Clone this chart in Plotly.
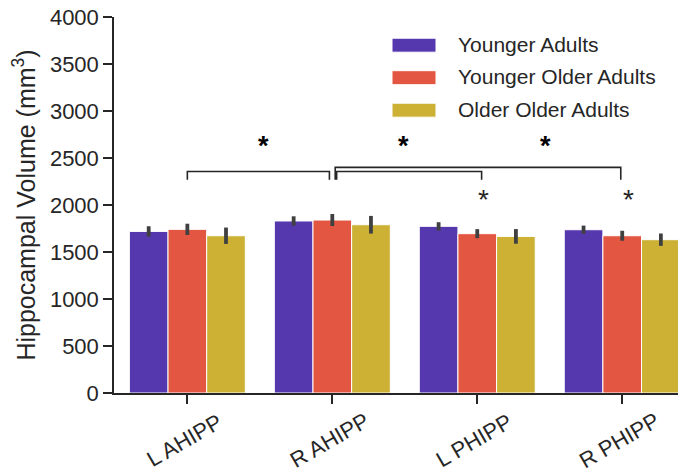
import plotly.graph_objects as go

# ---------------- data ----------------
categories = ["L AHIPP", "R AHIPP", "L PHIPP", "R PHIPP"]
series_names = ["Younger Adults", "Younger Older Adults", "Older Older Adults"]
young_vals = [1719, 1830, 1773, 1737]
young_err = [55, 50, 44, 44]
yold_vals = [1741, 1840, 1695, 1673]
yold_err = [60, 64, 48, 53]
oold_vals = [1673, 1790, 1666, 1631]
oold_err = [87, 94, 78, 66]
colors = ["#5638AE", "#E35641", "#CCB134"]

# significance brackets: (x_start, x_end, y_top, y_leg) in data units
brackets = [(0.0, 0.98, 2357, 2269), (1.03, 2.03, 2357, 2269), (1.02, 2.99, 2400, 2269)]
big_star_x = [0.524, 1.494, 2.47]
big_star_y = 2660
small_star_x = [2.04, 3.04]
small_star_y = 2115

y_ticks = [0, 500, 1000, 1500, 2000, 2500, 3000, 3500, 4000]

FONT = "Liberation Sans, Arial, Helvetica, sans-serif"
TXT = "#262626"

# page offset of the figure (default body margin)
OFF = 8
W, H = 686 - OFF, 471 - OFF

fig = go.Figure()
vals = [young_vals, yold_vals, oold_vals]
errs = [young_err, yold_err, oold_err]
for i in range(3):
    fig.add_trace(go.Bar(
        x=list(range(len(categories))), y=vals[i], name=series_names[i],
        marker=dict(color=colors[i], line=dict(color="white", width=1)),
        error_y=dict(type="data", array=errs[i], visible=True, color="#404040",
                     thickness=3.8, width=0),
        showlegend=False,
    ))

shapes = []
for (x0, x1, yt, yl) in brackets:
    shapes.append(dict(type="path", xref="x", yref="y",
                       path=f"M {x0},{yl} L {x0},{yt} L {x1},{yt} L {x1},{yl}",
                       line=dict(color="#262626", width=1.6)))

annotations = []
for xs in big_star_x:
    annotations.append(dict(x=xs, y=big_star_y, xref="x", yref="y", text="<b>*</b>",
                            showarrow=False, font=dict(size=27, color="black", family=FONT),
                            yshift=-3))
for xs in small_star_x:
    annotations.append(dict(x=xs, y=small_star_y, xref="x", yref="y", text="*",
                            showarrow=False, font=dict(size=28, color=TXT, family=FONT),
                            yshift=-5))

# x category labels, rotated and centred on the ticks
for i, c in enumerate(categories):
    annotations.append(dict(x=i, y=0, xref="x", yref="paper", text=c, textangle=-30,
                            showarrow=False, xanchor="center", yanchor="middle",
                            xshift=-3, yshift=-47,
                            font=dict(size=22, color=TXT, family=FONT)))

# custom legend (page pixel coords converted to paper)
plot_l, plot_r, plot_t, plot_b = 114, 686, 17.3, 393.3
def px_to_paper_x(px):
    return (px - plot_l) / (plot_r - plot_l)
def px_to_paper_y(py):
    return (plot_b - py) / (plot_b - plot_t)

legend_rows = [45.5, 78, 110.5]
for i in range(3):
    cy = legend_rows[i]
    shapes.append(dict(type="rect", xref="paper", yref="paper",
                       x0=px_to_paper_x(392), x1=px_to_paper_x(436),
                       y0=px_to_paper_y(cy + 7), y1=px_to_paper_y(cy - 7),
                       fillcolor=colors[i], line=dict(color="white", width=1)))
    annotations.append(dict(x=px_to_paper_x(456), y=px_to_paper_y(cy), xref="paper", yref="paper",
                            text=series_names[i], showarrow=False, xanchor="left", yanchor="middle",
                            yshift=1, font=dict(size=21, color=TXT, family=FONT)))

fig.update_layout(
    width=W, height=H,
    margin=dict(l=plot_l - OFF, r=0, t=plot_t - OFF, b=H - (plot_b - OFF)),
    paper_bgcolor="white", plot_bgcolor="white",
    barmode="group", bargap=0.2, bargroupgap=0,
    shapes=shapes, annotations=annotations,
    font=dict(family=FONT, color=TXT),
    showlegend=False,
)
fig.update_xaxes(range=[-0.506, 3.44], tickvals=list(range(len(categories))),
                 showticklabels=False, ticks="outside", ticklen=9, tickwidth=1.5,
                 tickcolor="#262626", showline=True, linecolor="#262626", linewidth=1.5,
                 showgrid=False, zeroline=False, automargin=False)
fig.update_yaxes(range=[0, 4000], tickvals=y_ticks, ticks="outside", ticklen=9, tickwidth=1.5,
                 tickcolor="#262626", showline=True, linecolor="#262626", linewidth=1.5,
                 showgrid=False, zeroline=False, automargin=False, ticklabeloverflow="allow",
                 tickfont=dict(size=22, color=TXT, family=FONT),
                 title=dict(text="Hippocampal Volume (mm<sup>3</sup>)",
                            font=dict(size=25, color=TXT, family=FONT), standoff=12))

fig.write_html("out.html")
